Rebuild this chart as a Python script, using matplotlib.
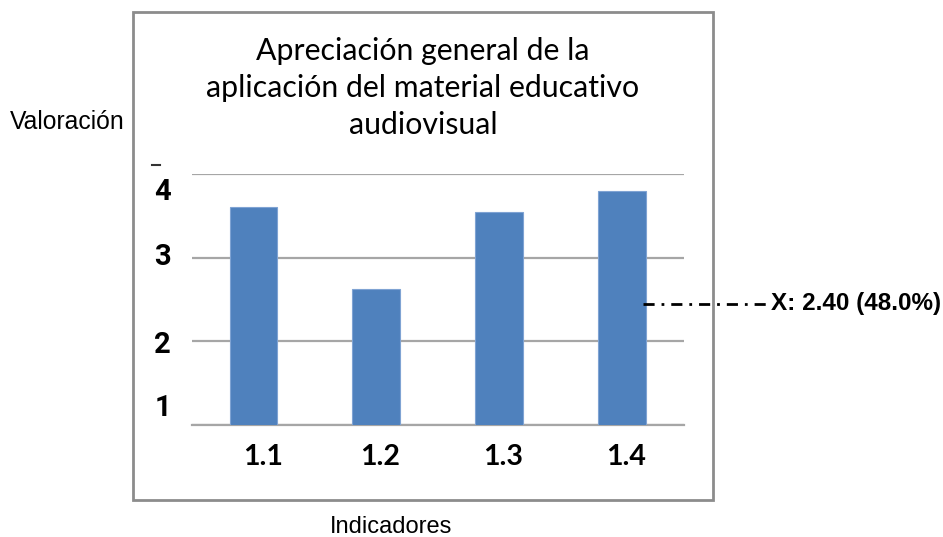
import matplotlib.pyplot as plt
from matplotlib.patches import Rectangle
from matplotlib.lines import Line2D
from matplotlib.transforms import blended_transform_factory, ScaledTranslation

# datos
indicadores = ["1.1", "1.2", "1.3", "1.4"]
valoracion = [3.61, 2.62, 3.55, 3.80]
media_y = 2.45
media_texto = "X: 2.40 (48.0%)"
ytick_labels = ["1", "2", "3", "4"]
ytick_label_pos = [1.2, 1.96, 3.01, 3.78]
xlabel_shift_px = [10, 4, 4, 4]

fig = plt.figure(figsize=(9.43, 5.37), dpi=100)
ax = fig.add_axes([0.2036, 0.2086, 0.5217, 0.4674])

# marco gris del grafico
fig.patches.append(Rectangle((0.141, 0.069), 0.615, 0.909, transform=fig.transFigure,
                             fill=False, edgecolor="#8c8c8c", linewidth=2))
# pequeña marca sobre el 4
fig.add_artist(Line2D([152 / 943, 160 / 943], [1 - 165 / 537] * 2, color="#333333", linewidth=1.5))

x = range(len(indicadores))
ax.bar(x, valoracion, width=0.39, color="#4f81bd", edgecolor="#7fa3d3", linewidth=0.8, zorder=3)

ax.set_xlim(-0.5, 3.5)
ax.set_ylim(1, 4)
ax.set_yticks([1, 2, 3, 4])
ax.set_yticklabels([])
ax.tick_params(axis="y", length=0)
ax.grid(axis="y", color="#a6a6a6", linewidth=1.6, zorder=0)
for s in ["left", "right", "top"]:
    ax.spines[s].set_visible(False)
ax.spines["bottom"].set_color("#a6a6a6")
ax.spines["bottom"].set_linewidth(1.6)

ax.set_xticks(list(x))
ax.set_xticklabels(indicadores, fontfamily="Lato", fontweight="bold", fontsize=20.5)
ax.tick_params(axis="x", length=0, pad=14)
for lbl, dx in zip(ax.get_xticklabels(), xlabel_shift_px):
    lbl.set_transform(lbl.get_transform() + ScaledTranslation(dx / 100, 0, fig.dpi_scale_trans))

trans = blended_transform_factory(ax.transAxes, ax.transData)
for lab, pos in zip(ytick_labels, ytick_label_pos):
    ax.text(-0.06, pos, lab, transform=trans, ha="center", va="center",
            fontsize=21, fontweight="bold", family="Roboto")

# linea de la media
ax.plot([3.167, 4.183], [media_y, media_y], color="black", linewidth=2,
        linestyle=(0, (4, 2.5, 1, 2.5)), clip_on=False, zorder=4)
ax.text(4.21, media_y, media_texto, ha="left", va="center", fontsize=17.5,
        fontweight="bold", family="Liberation Sans")

fig.text(0.4486, 0.836, "Apreciación general de la\naplicación del material educativo\naudiovisual",
         ha="center", va="center", fontsize=21.8, family="Lato", linespacing=1.38)

fig.text(10 / 943, 1 - 122 / 537, "Valoración", ha="left", va="center", fontsize=17.8,
         family="Liberation Sans")
fig.text(391 / 943, 1 - 527 / 537, "Indicadores", ha="center", va="center", fontsize=17,
         family="Liberation Sans")

fig.savefig("out.png", dpi=100)
